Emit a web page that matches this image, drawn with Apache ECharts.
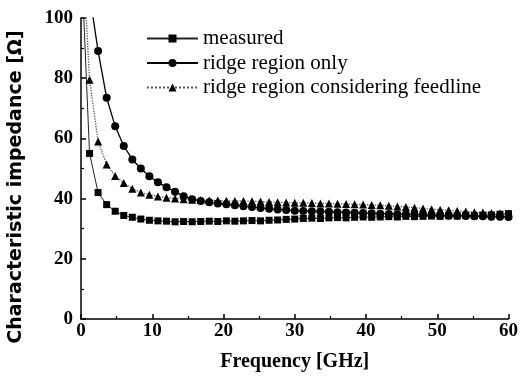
<!DOCTYPE html>
<html>
<head>
<meta charset="utf-8">
<script src="https://cdn.jsdelivr.net/npm/echarts@6/dist/echarts.min.js"></script>
<style>
  html, body { margin: 0; padding: 0; background: #fff; }
  #chart { width: 521px; height: 385px; }
</style>
</head>
<body>
<div id="chart"></div>
<script>
// frequency points in GHz (first point sits above the plot top and gets clipped)
const freq = [
  0, 1.2, 2.4, 3.6, 4.8, 6.0, 7.2, 8.4, 9.6, 10.8,
  12.0, 13.2, 14.4, 15.6, 16.8, 18.0, 19.2, 20.4, 21.6, 22.8,
  24.0, 25.2, 26.4, 27.6, 28.8, 30.0, 31.2, 32.4, 33.6, 34.8,
  36.0, 37.2, 38.4, 39.6, 40.8, 42.0, 43.2, 44.4, 45.6, 46.8,
  48.0, 49.2, 50.4, 51.6, 52.8, 54.0, 55.2, 56.4, 57.6, 58.8,
  60.0
];
// measured (squares)
const measured = [
  122, 55, 42, 38, 35.8, 34.4, 33.8, 33.2, 32.8, 32.6,
  32.5, 32.3, 32.4, 32.3, 32.4, 32.5, 32.4, 32.6, 32.5, 32.6,
  32.7, 32.6, 32.8, 32.9, 33.1, 33.2, 33.4, 33.5, 33.4, 33.6,
  33.7, 33.6, 33.8, 33.9, 33.8, 33.9, 34.0, 33.9, 34.1, 34.0,
  34.1, 34.2, 34.1, 34.3, 34.2, 34.4, 34.3, 34.5, 34.6, 34.8,
  35.0
];
// ridge region only (circles)
const ridgeOnly = [
  130, 108, 89, 73.5, 64, 57.5, 53, 50, 47.4, 45.4,
  43.8, 42.3, 40.8, 39.8, 39.2, 38.8, 38.4, 38.1, 37.8, 37.5,
  37.2, 36.9, 36.6, 36.4, 36.2, 36.0, 35.9, 35.8, 35.7, 35.6,
  35.5, 35.4, 35.3, 35.2, 35.1, 35.0, 34.9, 34.8, 34.8, 34.7,
  34.6, 34.5, 34.4, 34.3, 34.3, 34.2, 34.1, 34.1, 34.0, 34.0,
  33.9
];
// ridge region considering feedline (triangles)
const ridgeFeed = [
  133, 79.5, 59, 51.3, 47.5, 45.2, 43.3, 42.0, 41.3, 40.7,
  40.3, 40.0, 39.8, 39.6, 39.5, 39.4, 39.4, 39.3, 39.2, 39.2,
  39.1, 39.0, 38.9, 38.8, 38.7, 38.6, 38.6, 38.5, 38.4, 38.4,
  38.3, 38.2, 38.1, 38.0, 37.9, 37.8, 37.6, 37.4, 37.2, 37.0,
  36.7, 36.5, 36.3, 36.1, 35.9, 35.7, 35.5, 35.4, 35.2, 35.1,
  35.0
];
const seriesNames = ["measured", "ridge region only", "ridge region considering feedline"];

const serif = "'Liberation Serif', 'Times New Roman', serif";

function pairs(values) {
  return freq.map((f, i) => [f, values[i]]);
}

const chart = echarts.init(document.getElementById("chart"), null, { renderer: "canvas" });

const axisFont = {
  color: "#000",
  fontFamily: serif,
  fontWeight: "bold",
  fontSize: 19,
};

const option = {
  animation: false,
  backgroundColor: "#fff",
  grid: { left: 81, right: 8, top: 18, bottom: 66 },
  legend: {
    orient: "vertical",
    left: 146,
    top: 28,
    padding: 0,
    itemGap: 3.5,
    itemWidth: 51,
    itemHeight: 10,
    data: seriesNames,
    textStyle: {
      color: "#000",
      fontFamily: serif,
      fontSize: 21,
      lineHeight: 20,
    },
  },
  xAxis: {
    type: "value",
    min: 0,
    max: 60,
    interval: 10,
    name: "Frequency [GHz]",
    nameLocation: "middle",
    nameGap: 33,
    nameTextStyle: { ...axisFont, fontSize: 20 },
    axisLine: { onZero: false, lineStyle: { color: "#000", width: 1.5 } },
    axisTick: { inside: true, length: 5, lineStyle: { color: "#000", width: 1.5 } },
    minorTick: { show: true, splitNumber: 2, length: 3, lineStyle: { color: "#000", width: 1.2 } },
    axisLabel: { ...axisFont, margin: 3, showMaxLabel: true },
    splitLine: { show: false },
  },
  yAxis: {
    type: "value",
    min: 0,
    max: 100,
    interval: 20,
    axisLine: { show: true, onZero: false, lineStyle: { color: "#000", width: 1.5 } },
    axisTick: { show: true, inside: true, length: 5, lineStyle: { color: "#000", width: 1.5 } },
    minorTick: { show: true, splitNumber: 2, length: 3, lineStyle: { color: "#000", width: 1.2 } },
    axisLabel: { ...axisFont, margin: 8 },
    splitLine: { show: false },
  },
  graphic: [
    {
      type: "text",
      x: 16.5,
      y: 187,
      rotation: Math.PI / 2,
      style: {
        text: "Characteristic impedance [Ω]",
        fill: "#000",
        font: "bold 19px 'DejaVu Sans', Arial, sans-serif",
        textAlign: "center",
        textVerticalAlign: "middle",
      },
    },
  ],
  series: [
    {
      name: seriesNames[0],
      type: "line",
      data: pairs(measured),
      clip: true,
      symbol: "rect",
      symbolSize: 7,
      showAllSymbol: true,
      lineStyle: { color: "#222", width: 1 },
      itemStyle: { color: "#000" },
    },
    {
      name: seriesNames[1],
      type: "line",
      data: pairs(ridgeOnly),
      clip: true,
      symbol: "circle",
      symbolSize: 8,
      showAllSymbol: true,
      lineStyle: { color: "#000", width: 1.3 },
      itemStyle: { color: "#000" },
    },
    {
      name: seriesNames[2],
      type: "line",
      data: pairs(ridgeFeed),
      clip: true,
      symbol: "triangle",
      symbolSize: 8,
      showAllSymbol: true,
      lineStyle: { color: "#555", width: 1.3, type: "dotted" },
      itemStyle: { color: "#000" },
    },
  ],
};

chart.setOption(option);
</script>
</body>
</html>
